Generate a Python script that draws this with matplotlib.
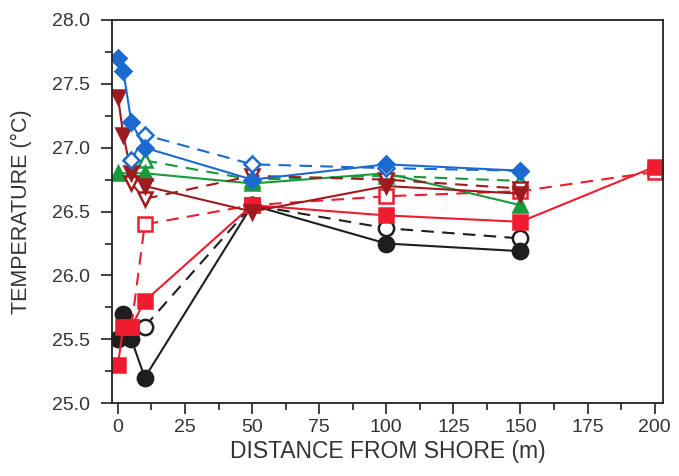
import matplotlib.pyplot as plt
from matplotlib.ticker import MultipleLocator

plt.rcParams['font.family'] = ['Liberation Sans', 'DejaVu Sans']

# temperature profiles away from shore, filled = solid line, open = dashed line
blue_x = [0, 2, 5, 10, 50, 100, 150]
blue_t = [27.7, 27.6, 27.2, 27.0, 26.75, 26.87, 26.82]
blue_open_x = [5, 10, 50, 100, 150]
blue_open_t = [26.9, 27.1, 26.87, 26.84, 26.82]

green_x = [0, 5, 10, 50, 100, 150]
green_t = [26.8, 26.8, 26.8, 26.72, 26.8, 26.55]
green_open_x = [10, 50, 100, 150]
green_open_t = [26.9, 26.75, 26.78, 26.74]

dred_x = [0, 2, 5, 10, 50, 100, 150]
dred_t = [27.4, 27.1, 26.8, 26.7, 26.5, 26.7, 26.64]
dred_open_x = [5, 10, 50, 100, 150]
dred_open_t = [26.72, 26.6, 26.78, 26.75, 26.68]

red_x = [0, 2, 5, 10, 50, 100, 150, 200]
red_t = [25.3, 25.6, 25.6, 25.8, 26.55, 26.47, 26.42, 26.85]
red_open_x = [5, 10, 50, 100, 150, 200]
red_open_t = [25.6, 26.4, 26.55, 26.62, 26.66, 26.81]

black_x = [0, 2, 5, 10, 50, 100, 150]
black_t = [25.5, 25.7, 25.5, 25.2, 26.55, 26.25, 26.19]
black_open_x = [10, 50, 100, 150]
black_open_t = [25.6, 26.55, 26.37, 26.29]

fig = plt.figure(figsize=(6.79, 4.76), dpi=100)
ax = fig.add_axes([0.165, 0.153, 0.811, 0.805])

series = [
    (black_open_x, black_open_t, '#1e1e1e', 'o', '--', False),
    (black_x, black_t, '#1e1e1e', 'o', '-', True),
    (red_open_x, red_open_t, '#ee1c2e', 's', '--', False),
    (red_x, red_t, '#ee1c2e', 's', '-', True),
    (green_open_x, green_open_t, '#159a3c', '^', '--', False),
    (green_x, green_t, '#159a3c', '^', '-', True),
    (dred_open_x, dred_open_t, '#9e1a1e', 'v', '--', False),
    (dred_x, dred_t, '#9e1a1e', 'v', '-', True),
    (blue_open_x, blue_open_t, '#1a6ad0', 'D', '--', False),
    (blue_x, blue_t, '#1a6ad0', 'D', '-', True),
]

sizes = {'o': 11, 's': 9.5, '^': 10, 'v': 10, 'D': 8.5}
for x, t, c, m, ls, filled in series:
    ax.plot(x, t, color=c, linestyle=ls, linewidth=1.5, marker=m, markersize=sizes[m],
            markerfacecolor=c if filled else 'white', markeredgecolor=c,
            markeredgewidth=1.8, dashes=(6, 4) if ls == '--' else (None, None))

ax.set_xlim(-2.2, 203)
ax.set_ylim(25.0, 28.0)
ax.xaxis.set_major_locator(MultipleLocator(25))
ax.xaxis.set_minor_locator(MultipleLocator(12.5))
ax.yaxis.set_major_locator(MultipleLocator(0.5))
ax.yaxis.set_minor_locator(MultipleLocator(0.25))
ax.yaxis.set_major_formatter(plt.FormatStrFormatter('%.1f'))
ax.tick_params(which='major', length=8, width=1.2, labelsize=14, colors='#222222',
               labelcolor='#333333')
ax.tick_params(axis='y', which='major', pad=8)
ax.tick_params(which='minor', length=5, width=1.2, colors='#222222')
for s in ax.spines.values():
    s.set_linewidth(1.3)
    s.set_color('#222222')

ax.set_xlabel('DISTANCE FROM SHORE (m)', fontsize=16.5, color='#333333', labelpad=3)
ax.set_ylabel('TEMPERATURE (°C)', fontsize=15.5, color='#333333', labelpad=14)

fig.savefig('out.png', dpi=100)
